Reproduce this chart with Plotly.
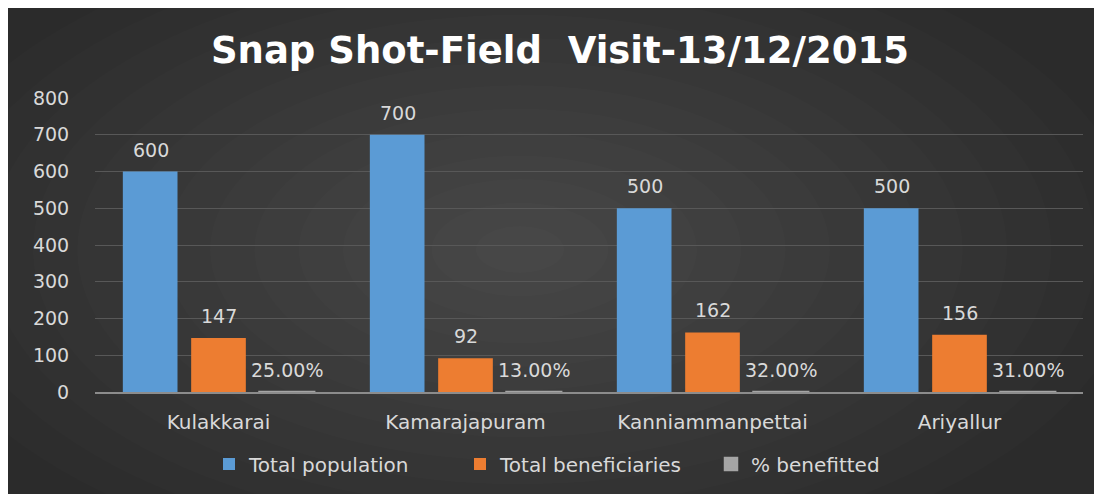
import plotly.graph_objects as go

categories = ["Kulakkarai", "Kamarajapuram", "Kanniammanpettai", "Ariyallur"]
total_population = [600, 700, 500, 500]
total_beneficiaries = [147, 92, 162, 156]
pct_benefitted = [0.25, 0.13, 0.32, 0.31]
series_names = ["Total population", "Total beneficiaries", "% benefitted"]
y_ticks = [0, 100, 200, 300, 400, 500, 600, 700, 800]

# the page body has an 8px margin, so the figure is offset by 8px
OFF = 8
W, H = 1102 - OFF, 494 - OFF
ML, MR, MT, MB = 87, 19, 90, 101
PW, PH = W - ML - MR, H - MT - MB

def px2x(px):
    return (px - OFF - ML) / PW

def px2y(py):
    return 1 - (py - OFF - MT) / PH

colors = ["#5b9bd5", "#ed7d31", "#a5a5a5"]
series = [total_population, total_beneficiaries, pct_benefitted]
labels = [
    [str(v) for v in total_population],
    [str(v) for v in total_beneficiaries],
    [f"{v*100:.2f}%" for v in pct_benefitted],
]

fig = go.Figure()
for name, vals, col in zip(series_names, series, colors):
    fig.add_trace(go.Bar(
        x=categories, y=vals, name=name,
        marker=dict(color=col, line=dict(color=col, width=2.5 if col == "#a5a5a5" else 0)),
        hoverinfo="x+y",
    ))

offsets = [-68, 0, 68]
annotations = []
for vals, labs, off in zip(series, labels, offsets):
    for c, v, t in zip(categories, vals, labs):
        annotations.append(dict(
            x=c, y=v, xref="x", yref="y", text=t, showarrow=False,
            xshift=off, yshift=22, yanchor="middle",
            font=dict(family="DejaVu Sans", size=19, color="#d9d9d9"),
        ))

shapes = []
n = 14
for i in range(n):
    f = 1 - i / n
    cx, cy = 520, 250
    rx, ry = 620 * f, 330 * f
    shapes.append(dict(
        type="circle", xref="paper", yref="paper", layer="below",
        x0=px2x(cx - rx), x1=px2x(cx + rx), y0=px2y(cy + ry), y1=px2y(cy - ry),
        fillcolor="rgba(255,255,255,0.012)", line=dict(width=0),
    ))

fig.update_layout(
    width=W, height=H,
    margin=dict(l=ML, r=MR, t=MT, b=MB, pad=0),
    paper_bgcolor="#2b2b2b",
    plot_bgcolor="rgba(0,0,0,0)",
    barmode="group", bargap=0.17, bargroupgap=0.2,
    title=dict(text="<b>Snap Shot-Field  Visit-13/12/2015</b>", x=(560 - OFF) / W, xanchor="center",
               y=1 - (50 - OFF) / H, yanchor="middle",
               font=dict(family="DejaVu Sans", size=37, color="#ffffff")),
    font=dict(family="DejaVu Sans", color="#d9d9d9"),
    xaxis=dict(showgrid=False, showline=True, linecolor="#8c8c8c", linewidth=2,
               ticks="outside", ticklen=11, tickcolor="rgba(0,0,0,0)",
               tickfont=dict(size=20, color="#d9d9d9")),
    yaxis=dict(range=[0, 800], tickvals=y_ticks, showgrid=True, gridcolor="#585858",
               gridwidth=1, zeroline=False, showline=False,
               ticks="outside", ticklen=21, tickcolor="rgba(0,0,0,0)",
               tickfont=dict(size=19, color="#d9d9d9")),
    legend=dict(orientation="h", x=px2x(209), xanchor="left", y=px2y(464), yanchor="middle",
                font=dict(size=20, color="#d9d9d9"), bgcolor="rgba(0,0,0,0)",
                itemwidth=30, entrywidth=206, entrywidthmode="pixels", traceorder="normal"),
    annotations=annotations,
    shapes=shapes,
    showlegend=True,
)

fig.write_html("out.html")
